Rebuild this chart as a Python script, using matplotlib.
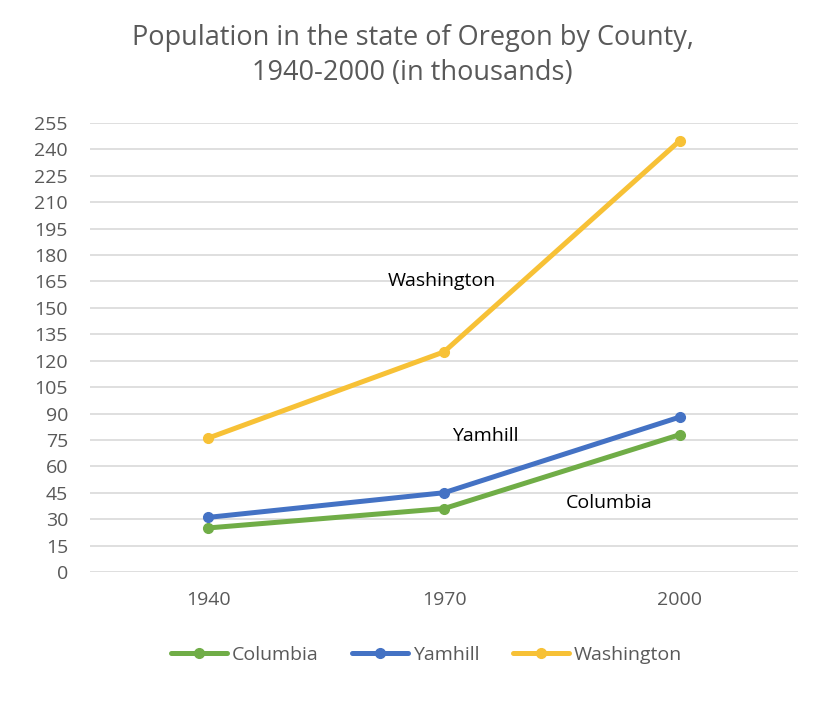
import matplotlib
matplotlib.use("Agg")
import matplotlib.pyplot as plt

plt.rcParams['font.family'] = ['Open Sans', 'DejaVu Sans']

# data (thousands)
years = ["1940", "1970", "2000"]
columbia = [25, 36, 78]
yamhill = [31, 45, 88]
washington = [76, 125, 245]
yticks = list(range(0, 256, 15))

grey = "#595959"
fig = plt.figure(figsize=(8.2, 7.2), dpi=100)
ax = fig.add_axes([0.11, 0.2056, 0.863, 0.6236])

x = range(len(years))
ax.plot(x, columbia, color="#70AD47", lw=3.6, marker="o", ms=7, label="Columbia", solid_capstyle="round")
ax.plot(x, yamhill, color="#4472C4", lw=3.6, marker="o", ms=7, label="Yamhill", solid_capstyle="round")
ax.plot(x, washington, color="#F7C136", lw=3.6, marker="o", ms=7, label="Washington", solid_capstyle="round")

# series name labels
ax.text(0.99, 165, "Washington", ha="center", va="center", fontsize=14, color="black")
ax.text(1.175, 77, "Yamhill", ha="center", va="center", fontsize=14, color="black")
ax.text(1.70, 39, "Columbia", ha="center", va="center", fontsize=14, color="black")

ax.set_xlim(-0.5, 2.5)
ax.set_ylim(0, 255)
ax.set_xticks(list(x))
ax.set_xticklabels(years)
ax.set_yticks(yticks)
ax.tick_params(axis="both", length=0, labelsize=14, colors=grey)
ax.tick_params(axis="y", pad=16)
ax.tick_params(axis="x", pad=14)
ax.grid(axis="y", color="#D9D9D9", lw=1.2)
ax.set_axisbelow(True)
for s in ax.spines.values():
    s.set_visible(False)

fig.suptitle("Population in the state of Oregon by County,\n1940-2000 (in thousands)",
             x=0.503, y=0.966, fontsize=19.5, color=grey, linespacing=1.32)

fig.legend(loc="center", bbox_to_anchor=(0.52, 0.09), ncol=3, frameon=False,
           fontsize=14, handlelength=2.9, handletextpad=0.25, columnspacing=1.7,
           labelcolor=grey)

fig.savefig("out.png", dpi=100)
